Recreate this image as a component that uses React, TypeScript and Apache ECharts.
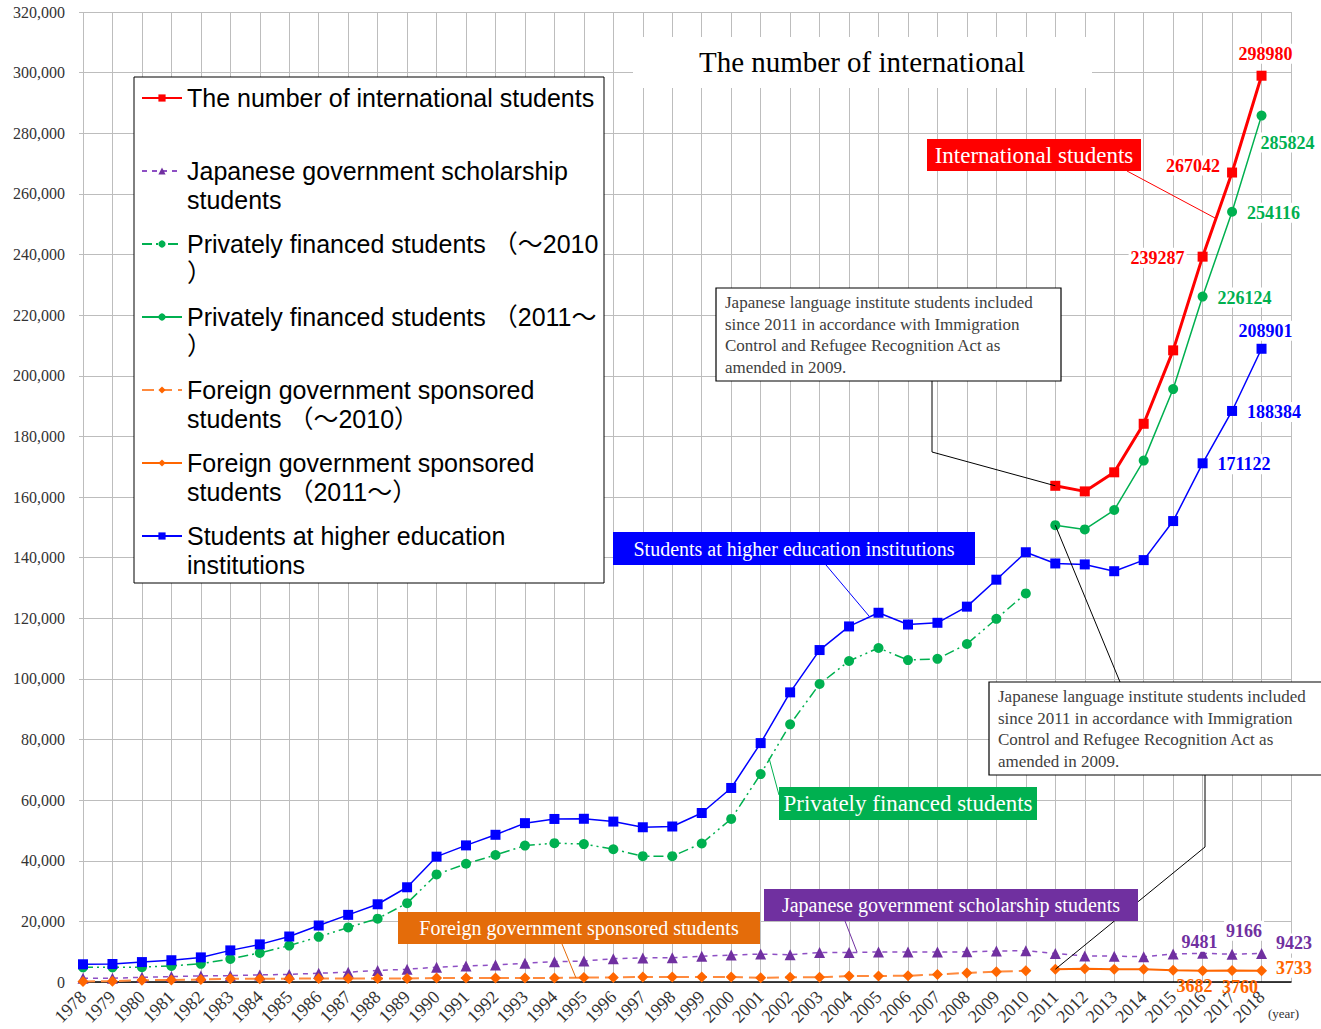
import React, { useEffect, useRef } from 'react';
import * as echarts from 'echarts';

// ---------- data ----------
const years = [
  1978, 1979, 1980, 1981, 1982, 1983, 1984, 1985, 1986, 1987, 1988, 1989,
  1990, 1991, 1992, 1993, 1994, 1995, 1996, 1997, 1998, 1999,
  2000, 2001, 2002, 2003, 2004, 2005, 2006, 2007, 2008, 2009,
  2010, 2011, 2012, 2013, 2014, 2015, 2016, 2017, 2018,
];
const yearsOld = [
  1978, 1979, 1980, 1981, 1982, 1983, 1984, 1985, 1986, 1987, 1988, 1989,
  1990, 1991, 1992, 1993, 1994, 1995, 1996, 1997, 1998, 1999,
  2000, 2001, 2002, 2003, 2004, 2005, 2006, 2007, 2008, 2009, 2010,
];
const yearsNew = [2011, 2012, 2013, 2014, 2015, 2016, 2017, 2018];

const internationalStudents = [163697, 161848, 168145, 184155, 208379, 239287, 267042, 298980];
const higherEducation = [
  5849, 5933, 6572, 7179, 8116, 10428, 12410, 15009, 18631, 22154, 25643, 31251,
  41347, 45066, 48561, 52405, 53787, 53847, 52921, 51047, 51298, 55755,
  64011, 78812, 95550, 109508, 117302, 121812, 117927, 118498, 123829, 132720,
  141774, 138075, 137756, 135519, 139185, 152062, 171122, 188384, 208901,
];
const privateOld = [
  4850, 4850, 4900, 5300, 6000, 7600, 9600, 12000, 14900, 18000, 20900, 26000,
  35500, 39000, 41900, 45000, 45800, 45500, 43800, 41500, 41500, 45700,
  53800, 68600, 85000, 98300, 105900, 110200, 106200, 106600, 111500, 119800,
  128200,
];
const privateNew = [150700, 149300, 155700, 172000, 195600, 226124, 254116, 285824];
const govScholarship = [
  1200, 1250, 1550, 1800, 2000, 2100, 2350, 2500, 2900, 3250, 3800, 4200,
  4900, 5300, 5600, 6200, 6700, 6900, 7700, 7950, 8000, 8500,
  8900, 9200, 9000, 9700, 9700, 9900, 9900, 9900, 9950, 10200,
  10349, 9396, 8588, 8529, 8351, 9223, 9481, 9166, 9423,
];
const foreignOld = [
  200, 250, 600, 650, 850, 1050, 1100, 1100, 1150, 1150, 1150, 1150,
  1300, 1300, 1300, 1350, 1350, 1450, 1500, 1650, 1650, 1650,
  1650, 1400, 1550, 1550, 2000, 2000, 2050, 2500, 3000, 3400,
  3700,
];
const foreignNew = [4200, 4400, 4200, 4200, 3900, 3682, 3760, 3733];

const yTicks = { min: 0, max: 320000, interval: 20000 };

const S_INTL = 'The number of international students';
const S_GOV = 'Japanese government scholarship students';
const S_PRIV_OLD = 'Privately financed students （～2010）';
const S_PRIV_NEW = 'Privately financed students （2011～）';
const S_FOR_OLD = 'Foreign government sponsored students （～2010）';
const S_FOR_NEW = 'Foreign government sponsored students （2011～）';
const S_HIGHER = 'Students at higher education institutions';

const legendLines: Record<string, string> = {
  [S_INTL]: ' \nThe number of international students\n ',
  [S_GOV]: ' \nJapanese government scholarship\nstudents',
  [S_PRIV_OLD]: ' \nPrivately financed students （～2010\n）',
  [S_PRIV_NEW]: ' \nPrivately financed students （2011～\n）',
  [S_FOR_OLD]: ' \nForeign government sponsored\nstudents （～2010）',
  [S_FOR_NEW]: ' \nForeign government sponsored\nstudents （2011～）',
  [S_HIGHER]: ' \nStudents at higher education\ninstitutions',
};

// ---------- styles ----------
const SERIF = '"Liberation Serif", "Times New Roman", serif';
const SANS = '"Liberation Sans", Arial, "Noto Sans CJK JP", sans-serif';
const C_RED = '#FF0000';
const C_BLUE = '#0000FF';
const C_GREEN = '#00B050';
const C_PURPLE = '#7030A0';
const C_ORANGE = '#FF6600';

type Lbl = { pos: string; off: number[]; clear?: boolean };
function build(xs: number[], ys: number[], labels?: Record<number, Lbl>) {
  return xs.map((x, i) => {
    const l = labels ? labels[x] : undefined;
    if (l) {
      const label: any = { show: true, position: l.pos, offset: l.off };
      if (l.clear) label.backgroundColor = 'transparent';
      return { value: [x, ys[i]], label };
    }
    return [x, ys[i]];
  });
}
function labelStyle(color: string) {
  return {
    show: false,
    formatter: (p: any) => String(p.value[1]),
    color,
    fontFamily: SERIF,
    fontWeight: 'bold',
    fontSize: 18,
    backgroundColor: '#fff',
    padding: [1, 2],
  };
}

export default function App() {
  const ref = useRef<HTMLDivElement>(null);
  useEffect(() => {
    const chart = echarts.init(ref.current!, null, { renderer: 'svg' });
    const option: any = {
      animation: false,
      textStyle: { fontFamily: SERIF },
      grid: { left: 83, right: 30, top: 12, bottom: 47, containLabel: false },
      xAxis: {
        type: 'value',
        min: 1978,
        max: 2019,
        interval: 1,
        axisLine: { show: true, lineStyle: { color: '#000', width: 1.5 } },
        axisTick: { show: false },
        splitLine: { show: true, lineStyle: { color: '#bdbdbd', width: 1 } },
        axisLabel: {
          rotate: 45,
          margin: 12,
          fontSize: 18,
          color: '#333',
          fontFamily: SERIF,
          formatter: (v: number) => (v === 2019 ? '' : String(v)),
        },
      },
      yAxis: {
        type: 'value',
        ...yTicks,
        axisLine: { show: false },
        axisTick: { show: true, length: 4, lineStyle: { color: '#bdbdbd' } },
        splitLine: { show: true, lineStyle: { color: '#bdbdbd', width: 1 } },
        axisLabel: {
          margin: 18,
          fontSize: 16,
          color: '#333',
          fontFamily: SERIF,
          formatter: (v: number) => v.toLocaleString('en-US'),
        },
      },
      legend: {
        orient: 'vertical',
        left: 141,
        top: 54.5,
        padding: 0,
        itemGap: -14,
        itemWidth: 40,
        itemHeight: 9,
        selectedMode: false,
        z: 5,
        data: [S_INTL, S_GOV, S_PRIV_OLD, S_PRIV_NEW, S_FOR_OLD, S_FOR_NEW, S_HIGHER],
        formatter: (name: string) => legendLines[name],
        textStyle: { fontFamily: SANS, fontSize: 25, lineHeight: 29, color: '#000' },
      },
      series: [
        {
          name: S_GOV,
          type: 'line',
          data: build(years, govScholarship, {
            2016: { pos: 'top', off: [-3, 9] },
            2017: { pos: 'top', off: [12, -3] },
            2018: { pos: 'right', off: [2, -10] },
          }),
          symbol: 'triangle',
          symbolSize: 11,
          itemStyle: { color: C_PURPLE },
          lineStyle: { color: '#8E4FC4', width: 1.5, type: [5, 5] },
          label: labelStyle(C_PURPLE),
        },
        {
          name: S_FOR_OLD,
          type: 'line',
          data: build(yearsOld, foreignOld),
          symbol: 'diamond',
          symbolSize: 11,
          itemStyle: { color: C_ORANGE },
          lineStyle: { color: '#FF8A3D', width: 2, type: [12, 6] },
        },
        {
          name: S_FOR_NEW,
          type: 'line',
          data: build(yearsNew, foreignNew, {
            2016: { pos: 'bottom', off: [-8, -5], clear: true },
            2017: { pos: 'bottom', off: [8, -4], clear: true },
            2018: { pos: 'right', off: [2, -3] },
          }),
          symbol: 'diamond',
          symbolSize: 11,
          itemStyle: { color: C_ORANGE },
          lineStyle: { color: C_ORANGE, width: 2 },
          label: labelStyle(C_ORANGE),
        },
        {
          name: S_PRIV_OLD,
          type: 'line',
          data: build(yearsOld, privateOld),
          symbol: 'circle',
          symbolSize: 10,
          itemStyle: { color: C_GREEN },
          lineStyle: { color: C_GREEN, width: 1.5, type: [10, 4, 2, 4, 2, 4] },
        },
        {
          name: S_PRIV_NEW,
          type: 'line',
          data: build(yearsNew, privateNew, {
            2016: { pos: 'right', off: [3, 1] },
            2017: { pos: 'right', off: [3, 1] },
            2018: { pos: 'right', off: [-13, 27] },
          }),
          symbol: 'circle',
          symbolSize: 10,
          itemStyle: { color: C_GREEN },
          lineStyle: { color: C_GREEN, width: 1.5 },
          label: labelStyle(C_GREEN),
        },
        {
          name: S_HIGHER,
          type: 'line',
          data: build(years, higherEducation, {
            2016: { pos: 'right', off: [3, 1] },
            2017: { pos: 'right', off: [3, 1] },
            2018: { pos: 'top', off: [4, 2] },
          }),
          symbol: 'rect',
          symbolSize: 10,
          itemStyle: { color: C_BLUE },
          lineStyle: { color: C_BLUE, width: 1.5 },
          label: labelStyle(C_BLUE),
        },
        {
          name: S_INTL,
          type: 'line',
          data: build(yearsNew, internationalStudents, {
            2016: { pos: 'left', off: [-6, 1] },
            2017: { pos: 'left', off: [0, -7] },
            2018: { pos: 'top', off: [4, -2] },
          }),
          symbol: 'rect',
          symbolSize: 10,
          itemStyle: { color: C_RED },
          lineStyle: { color: C_RED, width: 3 },
          label: labelStyle(C_RED),
        },
      ],
    };
    chart.setOption(option);

    const px = (x: number, y: number) => chart.convertToPixel({ gridIndex: 0 }, [x, y]) as number[];
    const pRed2011 = px(2011, internationalStudents[0]);
    const pGreen2011 = px(2011, privateNew[0]);
    const pOrange2011 = px(2011, foreignNew[0]);

    const tagBox = (x: number, y: number, w: number, h: number, fill: string, text: string, fs: number) => [
      { type: 'rect', z: 10, shape: { x, y, width: w, height: h }, style: { fill } },
      {
        type: 'text', z: 11, x: x + w / 2, y: y + h / 2,
        style: {
          text, fill: '#fff', font: `${fs}px ${SERIF}`,
          align: 'center', verticalAlign: 'middle', textAlign: 'center', textVerticalAlign: 'middle',
        },
      },
    ];
    const line = (pts: number[][], stroke: string, w = 1) => ({
      type: 'polyline', z: 9, shape: { points: pts }, style: { stroke, lineWidth: w, fill: null },
    });
    const note =
      'Japanese language institute students included\nsince 2011 in accordance with Immigration\nControl and Refugee Recognition Act as\namended in 2009.';
    const noteBox = (x: number, y: number, w: number, h: number) => [
      { type: 'rect', z: 10, shape: { x, y, width: w, height: h }, style: { fill: '#fff', stroke: '#000', lineWidth: 1.2 } },
      {
        type: 'text', z: 11, x: x + 9, y: y + 4,
        style: {
          text: note, fill: '#404040', font: `17px ${SERIF}`, lineHeight: 21.5,
          align: 'left', verticalAlign: 'top', textAlign: 'left', textVerticalAlign: 'top',
        },
      },
    ];

    const elements: any[] = [
      // legend frame
      { type: 'rect', z: 3, shape: { x: 134, y: 77, width: 470, height: 506 }, style: { fill: '#fff', stroke: '#000', lineWidth: 1 } },
      // title
      { type: 'rect', z: 3, shape: { x: 633, y: 37, width: 459, height: 51 }, style: { fill: '#fff' } },
      {
        type: 'text', z: 4, x: 862, y: 62,
        style: {
          text: 'The number of international', fill: '#000', font: `29px ${SERIF}`,
          align: 'center', verticalAlign: 'middle', textAlign: 'center', textVerticalAlign: 'middle',
        },
      },
      // leader lines
      line([[1127, 171], [1215, 218]], C_RED),
      line([[826, 565], [869, 616]], C_BLUE),
      line([[779, 795], [769, 758]], C_GREEN),
      line([[562, 944], [576, 978]], '#E46C0A'),
      line([[845, 921], [857, 952]], C_PURPLE),
      line([[932, 381], [932, 452], pRed2011], '#000'),
      line([pGreen2011, [1120, 682]], '#000'),
      line([[1205, 775], [1205, 847], pOrange2011], '#000'),
      // tag boxes
      ...tagBox(927, 139, 214, 32, C_RED, 'International students', 23),
      ...tagBox(613, 532, 362, 33, C_BLUE, 'Students at higher education institutions', 20),
      ...tagBox(779, 787, 258, 33, C_GREEN, 'Privately financed students', 23),
      ...tagBox(398, 912, 362, 32, '#E46C0A', 'Foreign government sponsored students', 20),
      ...tagBox(764, 889, 374, 32, C_PURPLE, 'Japanese government scholarship students', 20),
      // notes
      ...noteBox(716, 288, 345, 93),
      ...noteBox(989, 682, 340, 93),
      // unit
      {
        type: 'text', z: 4, x: 1268, y: 1013,
        style: {
          text: '(year)', fill: '#333', font: `13px ${SERIF}`,
          align: 'left', verticalAlign: 'middle', textAlign: 'left', textVerticalAlign: 'middle',
        },
      },
    ];
    chart.setOption({ graphic: { elements } });

    return () => chart.dispose();
  }, []);
  return <div ref={ref} style={{ position: 'absolute', left: 0, top: 0, width: 1321, height: 1029 }} />;
}
